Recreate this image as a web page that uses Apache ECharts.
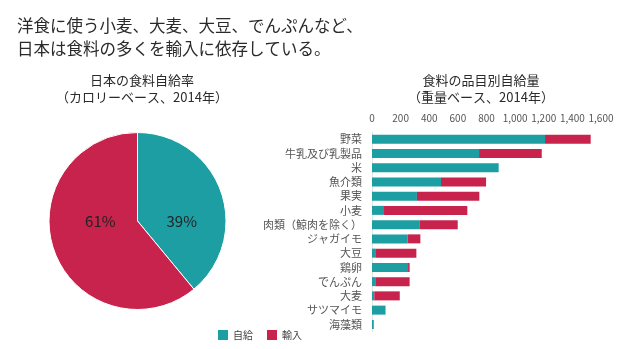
<!DOCTYPE html>
<html><head><meta charset="utf-8">
<script src="https://cdn.jsdelivr.net/npm/echarts@6/dist/echarts.min.js"></script>
<style>html,body{margin:0;padding:0;background:#fff}#c{width:620px;height:349px}</style>
</head><body><div id="c"></div>
<script>
const categories = ['野菜','牛乳及び乳製品','米','魚介類','果実','小麦','肉類（鯨肉を除く）','ジャガイモ','大豆','鶏卵','でんぷん','大麦','サツマイモ','海藻類'];
const selfValues = [1209, 748, 885, 482, 314, 84, 331, 249, 23, 252, 23, 16, 91, 8];
const importValues = [319, 438, 0, 315, 436, 582, 268, 89, 287, 11, 240, 178, 3, 4];
const pieNames = ['自給','輸入'];
const pieValues = [39, 61];
const xTicks = [0, 200, 400, 600, 800, 1000, 1200, 1400, 1600];

const TEAL = '#1c9ea2', RED = '#c8234d';
const FONT = '"Noto Sans CJK JP", "Noto Sans", sans-serif';
const PIE_C = [137.5, 221], PIE_R = 88.5;
const chart = echarts.init(document.getElementById('c'), null, {renderer:'canvas'});
chart.setOption({
  animation:false,
  textStyle:{fontFamily:FONT},
  color:[TEAL, RED],
  title:[
    {text:'洋食に使う小麦、大麦、大豆、でんぷんなど、\n日本は食料の多くを輸入に依存している。', left:12, top:9,
     textStyle:{fontFamily:FONT, fontSize:16.5, fontWeight:'normal', color:'#2a2a2a', lineHeight:23}},
    {text:'日本の食料自給率\n（カロリーベース、2014年）', left:137, top:67, textAlign:'center',
     textStyle:{fontFamily:FONT, fontSize:13, fontWeight:'normal', color:'#2a2a2a', lineHeight:17}},
    {text:'食料の品目別自給量\n（重量ベース、2014年）', left:476, top:67, textAlign:'center',
     textStyle:{fontFamily:FONT, fontSize:13, fontWeight:'normal', color:'#2a2a2a', lineHeight:17}}
  ],
  legend:{data:pieNames, left:213, top:325, itemWidth:10, itemHeight:10, itemGap:14, icon:'rect',
    textStyle:{fontFamily:FONT, fontSize:10, color:'#444'}},
  grid:{left:372, right:19, top:132, height:199.5, containLabel:false},
  xAxis:{type:'value', position:'top', min:0, max:1600, interval:200,
    axisLine:{show:false}, axisTick:{show:false}, splitLine:{show:false},
    axisLabel:{fontFamily:FONT, fontSize:10, color:'#555', margin:9,
      formatter:v => xTicks.includes(v) ? v.toLocaleString('en-US') : ''}},
  yAxis:{type:'category', data:categories, inverse:true,
    axisLine:{show:true, lineStyle:{color:'#e4e4e4'}}, axisTick:{show:false},
    axisLabel:{interval:0, fontFamily:FONT, fontSize:11, color:'#555', margin:10}},
  series:[
    {type:'pie', name:'食料自給率', center:PIE_C, radius:PIE_R, startAngle:90, clockwise:true,
     data:pieNames.map((n,i)=>({name:n, value:pieValues[i], itemStyle:{color:i?RED:TEAL}})),
     itemStyle:{borderColor:'#fff', borderWidth:1},
     label:{position:'inside', formatter:p=>p.value+'%', fontFamily:FONT, fontSize:15, color:'#222'},
     labelLayout:p => ({x: PIE_C[0] + (p.dataIndex === 0 ? 0.5 : -0.42) * PIE_R, y: PIE_C[1],
       align:'center', verticalAlign:'middle'}),
     labelLine:{show:false}},
    {type:'bar', name:'自給', stack:'s', data:selfValues, barWidth:9, itemStyle:{color:TEAL}},
    {type:'bar', name:'輸入', stack:'s', data:importValues, barWidth:9, itemStyle:{color:RED}}
  ]
});
</script></body></html>
